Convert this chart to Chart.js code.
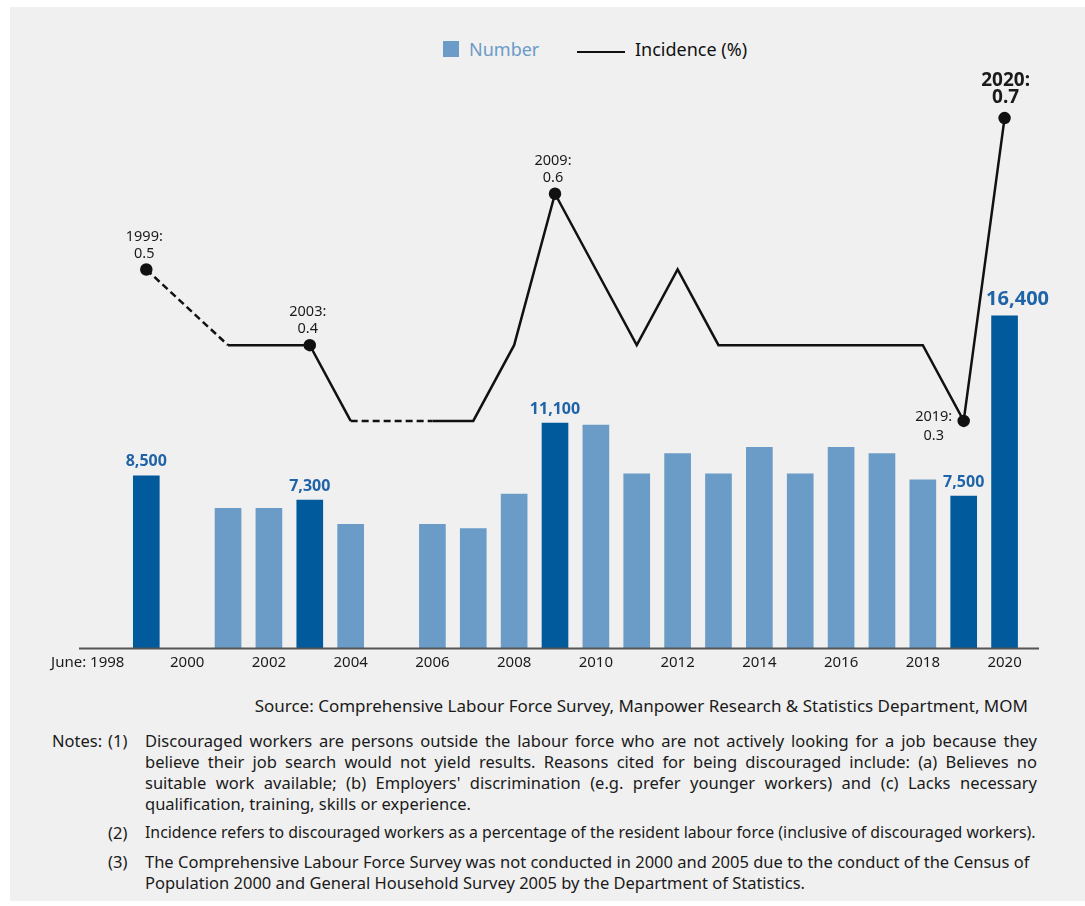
<!DOCTYPE html>
<html>
<head>
<meta charset="utf-8">
<script src="https://cdn.jsdelivr.net/npm/chart.js@4.4.1/dist/chart.umd.min.js"></script>
<style>
  html, body { margin: 0; padding: 0; background: #ffffff; }
  body { width: 1085px; height: 906px; position: relative; overflow: hidden; font-family: "Noto Sans", sans-serif; color: #1a1a1a; }
  #panel { position: absolute; left: 10px; top: 7px; right: 0; bottom: 5px; background: #f0f0f0; }
  #chartBox { position: absolute; left: 0; top: 0; width: 1085px; height: 690px; }
  #legend { position: absolute; top: 37px; left: 443px; font-size: 18px; white-space: nowrap; }
  #legend .item { position: absolute; top: 0; }
  #legend .box { position: absolute; width: 16px; height: 16px; top: 4px; left: 0; }
  #legend .ln { position: absolute; width: 48px; height: 2px; top: 14px; left: 0; background: #111; }
  .txt { position: absolute; font-size: 16.5px; line-height: 21px; white-space: nowrap; }
  .just { text-align: justify; text-align-last: justify; width: 892px; }
</style>
</head>
<body>
<div id="panel"></div>
<div id="legend"></div>
<div id="chartBox"><canvas id="comboChart" width="1085" height="690"></canvas></div>

<div class="txt" style="right:57px; top:695px; font-size:17px;">Source: Comprehensive Labour Force Survey, Manpower Research &amp; Statistics Department, MOM</div>
<div class="txt" style="left:52px; top:730px;">Notes:</div>
<div class="txt" style="left:108px; top:730px;">(1)</div>
<div class="txt just" style="left:145px; top:730px;">Discouraged workers are persons outside the labour force who are not actively looking for a job because they</div>
<div class="txt just" style="left:145px; top:751px;">believe their job search would not yield results. Reasons cited for being discouraged include: (a) Believes no</div>
<div class="txt just" style="left:145px; top:772px;">suitable work available; (b) Employers' discrimination (e.g. prefer younger workers) and (c) Lacks necessary</div>
<div class="txt" style="left:145px; top:793px;">qualification, training, skills or experience.</div>
<div class="txt" style="left:108px; top:822px;">(2)</div>
<div class="txt" style="left:145px; top:822px; font-size:15.85px;">Incidence refers to discouraged workers as a percentage of the resident labour force (inclusive of discouraged workers).</div>
<div class="txt" style="left:108px; top:851px;">(3)</div>
<div class="txt" style="left:145px; top:851px;">The Comprehensive Labour Force Survey was not conducted in 2000 and 2005 due to the conduct of the Census of</div>
<div class="txt" style="left:145px; top:872px;">Population 2000 and General Household Survey 2005 by the Department of Statistics.</div>

<script>
// data
const years = ['1998','1999','2000','2001','2002','2003','2004','2005','2006','2007','2008','2009',
               '2010','2011','2012','2013','2014','2015','2016','2017','2018','2019','2020'];
const numberValues = [null, 8500, null, 6900, 6900, 7300, 6100, null, 6100, 5900, 7600, 11100,
                      11000, 8600, 9600, 8600, 9900, 8600, 9900, 9600, 8300, 7500, 16400];
const incidenceValues = [null, 0.5, null, 0.4, 0.4, 0.4, 0.3, null, 0.3, 0.3, 0.4, 0.6,
                         0.5, 0.4, 0.5, 0.4, 0.4, 0.4, 0.4, 0.4, 0.4, 0.3, 0.7];
const highlightYears = ['1999', '2003', '2009', '2019', '2020'];
const firstTickLabel = 'June: 1998';
const seriesNames = ['Number', 'Incidence (%)'];

const FONT = '"Noto Sans", sans-serif';
const darkBlue = '#005a9b';
const lightBlue = '#6b9bc7';
const labelBlue = '#1f63a8';

const isHi = (i) => highlightYears.includes(years[i]);

// legend (html)
const legend = document.getElementById('legend');
legend.innerHTML =
  '<div class="item" style="left:0"><span class="box" style="background:' + lightBlue + '"></span>' +
  '<span style="position:absolute;left:26px;color:' + lightBlue + '">' + seriesNames[0] + '</span></div>' +
  '<div class="item" style="left:134px"><span class="ln"></span>' +
  '<span style="position:absolute;left:58px;color:#111">' + seriesNames[1] + '</span></div>';

const labelsPlugin = {
  id: 'labelsPlugin',
  afterDatasetsDraw(chart) {
    const ctx = chart.ctx;
    const barMeta = chart.getDatasetMeta(1);
    const lineMeta = chart.getDatasetMeta(0);
    ctx.save();
    ctx.textAlign = 'center';
    ctx.textBaseline = 'middle';

    // bar value labels
    barMeta.data.forEach((bar, i) => {
      if (!isHi(i) || numberValues[i] == null) return;
      const txt = numberValues[i].toLocaleString('en-US');
      ctx.fillStyle = labelBlue;
      if (years[i] === '2020') {
        ctx.font = 'bold 20px ' + FONT;
        ctx.fillText(txt, bar.x + 13, bar.y - 16);
      } else {
        ctx.font = 'bold 16px ' + FONT;
        ctx.fillText(txt, bar.x, bar.y - 14);
      }
    });

    // incidence labels
    lineMeta.data.forEach((pt, i) => {
      if (!isHi(i) || incidenceValues[i] == null) return;
      const l1 = years[i] + ':';
      const l2 = incidenceValues[i].toFixed(1);
      ctx.fillStyle = '#1a1a1a';
      if (years[i] === '2020') {
        ctx.font = 'bold 19px ' + FONT;
        ctx.fillText(l1, pt.x + 1, pt.y - 37);
        ctx.fillText(l2, pt.x + 1, pt.y - 20);
      } else if (years[i] === '2019') {
        ctx.font = '14.5px ' + FONT;
        ctx.fillText(l1, pt.x - 30, pt.y - 4);
        ctx.fillText(l2, pt.x - 30, pt.y + 15);
      } else {
        ctx.font = '14.5px ' + FONT;
        ctx.fillText(l1, pt.x - 2, pt.y - 33);
        ctx.fillText(l2, pt.x - 2, pt.y - 16);
      }
    });

    // x axis line + first tick label
    const xs = chart.scales.x;
    const y0 = chart.chartArea.bottom;
    ctx.strokeStyle = '#555';
    ctx.lineWidth = 2;
    ctx.beginPath();
    ctx.moveTo(79, y0 + 0.5);
    ctx.lineTo(1039, y0 + 0.5);
    ctx.stroke();

    ctx.fillStyle = '#1a1a1a';
    ctx.font = '15px ' + FONT;
    ctx.textAlign = 'right';
    ctx.fillText(firstTickLabel, xs.getPixelForValue(0) + 19, y0 + 15);
    ctx.restore();
  }
};

new Chart('comboChart', {
  data: {
    labels: years,
    datasets: [
      {
        type: 'line',
        label: seriesNames[1],
        data: incidenceValues,
        yAxisID: 'yLine',
        borderColor: '#111',
        backgroundColor: '#111',
        borderWidth: 2.5,
        pointRadius: years.map((y, i) => isHi(i) ? 5 : 0),
        pointHoverRadius: 0,
        spanGaps: true,
        tension: 0,
        segment: {
          // dashed where the line bridges a year with no survey
          borderDash: (c) => (incidenceValues[c.p1DataIndex - 1] == null ? [7, 4] : undefined)
        },
        order: 0
      },
      {
        type: 'bar',
        label: seriesNames[0],
        data: numberValues,
        yAxisID: 'yBar',
        backgroundColor: years.map((y, i) => isHi(i) ? darkBlue : lightBlue),
        barThickness: 26,
        order: 1
      }
    ]
  },
  options: {
    responsive: false,
    maintainAspectRatio: false,
    animation: false,
    layout: { padding: { left: 85, right: 60, top: 70, bottom: 12 } },
    plugins: {
      legend: { display: false },
      tooltip: { enabled: false }
    },
    scales: {
      x: {
        grid: { display: false, drawTicks: false },
        border: { display: false },
        ticks: {
          autoSkip: false,
          maxRotation: 0,
          padding: 6,
          color: '#1a1a1a',
          font: { family: FONT, size: 15 },
          callback: function (v, i) {
            if (i === 0) return '';
            return Number(years[i]) % 2 === 0 ? years[i] : '';
          }
        }
      },
      yBar: { display: false, min: 0, max: 28530 },
      yLine: { display: false, min: 0, max: 0.7635 }
    }
  },
  plugins: [labelsPlugin]
});
</script>
</body>
</html>
